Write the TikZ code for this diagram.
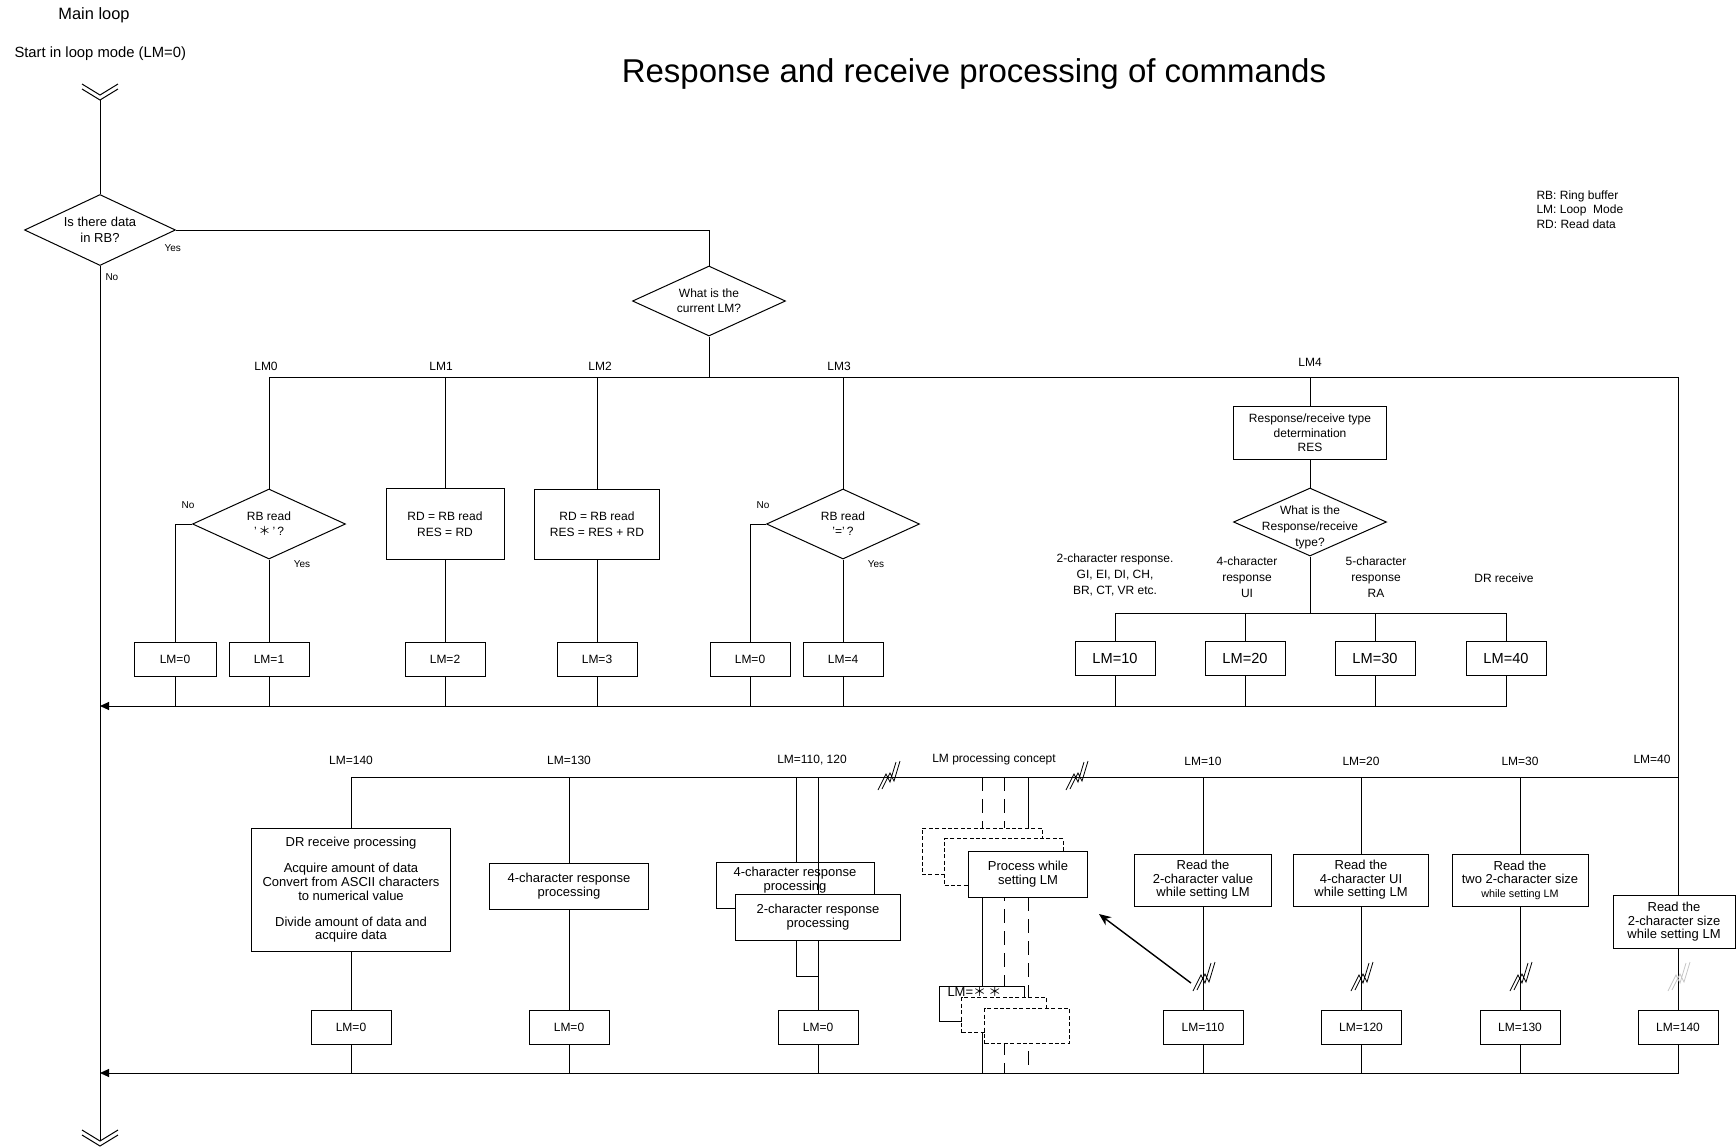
\documentclass[tikz,border=0pt]{standalone}
\usepackage{fontspec}
\setmainfont{Liberation Sans}
\newfontfamily\cjk{Noto Sans CJK JP}
\usetikzlibrary{shapes.geometric,arrows.meta,positioning}

\begin{document}
\begin{tikzpicture}[
    x=0.5pt, y=-0.5pt,
    line width=0.5pt,
    txt/.style={inner sep=0pt, align=center, font=\fontsize{6}{8}\selectfont},
    note/.style={inner sep=0pt, font=\fontsize{5}{6}\selectfont},
    box/.style={draw, fill=white, inner sep=1pt, align=center, font=\fontsize{6}{8}\selectfont},
    lmbox/.style={box, minimum width=40pt, minimum height=17pt},
    lmbig/.style={lmbox, font=\fontsize{7.3}{9}\selectfont},
    proc/.style={box, font=\fontsize{6.5}{6.8}\selectfont},
    decision/.style={diamond, draw, fill=white, inner sep=0pt, aspect=2.2,
                     minimum width=76.5pt, minimum height=35pt, align=center,
                     font=\fontsize{6}{7.5}\selectfont},
    ghost/.style={draw, fill=white, dash pattern=on 2pt off 1.2pt},
    longdash/.style={dash pattern=on 7pt off 4pt},
    arr/.style={-{Triangle[length=4.5pt,width=4pt]}},
    brk/.pic={\draw[line width=0.4pt] (-10,13) -- (-2,-3) -- (2,5) -- (8,-15)
                                        (-6,12) -- (2,-4) -- (6,4) -- (12,-16);},
    chev/.pic={\draw (-18,-11) -- (0,0) -- (18,-11);}
  ]
  \useasboundingbox (0,0) rectangle (1736,1147);

  % headings
  \node[inner sep=0pt, font=\fontsize{8.2}{10}\selectfont] (mainloop) at (94,15) {Main loop};
  \node[inner sep=0pt, anchor=west, font=\fontsize{7.4}{9}\selectfont] (start) at (14,54) {Start in loop mode (LM=0)};
  \node[inner sep=0pt, font=\fontsize{16.5}{20}\selectfont] (title) at (974,74) {Response and receive processing of commands};
  \node[txt, anchor=north west, align=left, font=\fontsize{6}{7.25}\selectfont] (legend) at (1536,190)
    {RB: Ring buffer\\LM: Loop\ \ Mode\\RD: Read data};

  % main loop line
  \coordinate (top) at (100,100);
  \coordinate (bot) at (100,1141);
  \pic at (100,95) {chev};
  \pic at (top) {chev};
  \pic at (bot) {chev};
  \pic at (100,1146) {chev};
  \node[decision, minimum width=75.5pt, minimum height=35.5pt, font=\fontsize{6.5}{8}\selectfont] (qdata) at (100,230) {Is there data\\in RB?};
  \node[note, anchor=west] (yes0) at (164,248) {Yes};
  \node[note, anchor=west] (no0) at (105,277) {No};
  \draw (top) -- (qdata);
  \draw (qdata) -- (bot);

  \node[decision] (qlm) at (709,301) {What is the\\current LM?};
  \draw (qdata.east) -| (qlm.north);
  \coordinate (hub) at (709,377);
  \coordinate (bus0) at (269,377);
  \coordinate (busR) at (1678,377);
  \draw (qlm) -- (hub);
  \draw (bus0) -- (busR);

  \node[txt] (lab0) at (266,366) {LM0};
  \node[txt] (lab1) at (441,366) {LM1};
  \node[txt] (lab2) at (600,366) {LM2};
  \node[txt] (lab3) at (839,366) {LM3};
  \node[txt] (lab4) at (1310,362) {LM4};

  % LM0
  \node[decision] (qstar) at (269,524) {RB read\\'\,{\cjk ＊}\,'\,?};
  \node[note] (no1) at (188,505) {No};
  \node[note] (yes1) at (302,564) {Yes};
  \node[lmbox, minimum width=41pt] (lmA0) at (175,659) {LM=0};
  \node[lmbox] (lmA1) at (269,659) {LM=1};
  \draw (bus0) -- (qstar);
  \draw (qstar.west) -| (lmA0);
  \draw (qstar) -- (lmA1);

  % LM1
  \node[box, minimum width=59pt, minimum height=35.5pt] (rdA) at (445,524) {RD = RB read\\RES = RD};
  \node[lmbox] (lmA2) at (445,659) {LM=2};
  \draw (445,377) -- (rdA);
  \draw (rdA) -- (lmA2);

  % LM2
  \node[box, minimum width=62.5pt, minimum height=35pt] (rdB) at (597,524) {RD = RB read\\RES = RES + RD};
  \node[lmbox] (lmA3) at (597,659) {LM=3};
  \draw (597,377) -- (rdB);
  \draw (rdB) -- (lmA3);

  % LM3
  \node[decision] (qeq) at (843,524) {RB read\\'='\,?};
  \node[note] (no2) at (763,505) {No};
  \node[note] (yes2) at (876,564) {Yes};
  \node[lmbox] (lmA0b) at (750,659) {LM=0};
  \node[lmbox] (lmA4) at (843,659) {LM=4};
  \draw (843,377) -- (qeq);
  \draw (qeq.west) -| (lmA0b);
  \draw (qeq) -- (lmA4);

  % LM4
  \coordinate (lm4top) at (1310,377);
  \coordinate (rhub) at (1310,613);
  \node[box, minimum width=76.5pt, minimum height=26.5pt, font=\fontsize{6}{7.3}\selectfont] (restype) at (1310,433)
    {Response/receive type\\determination\\RES};
  \node[decision, minimum height=34pt] (qres) at (1310,522) {};
  \node[txt] (qrestxt) at ([yshift=-2.5pt]qres.center) {What is the\\Response/receive\\type?};
  \draw (lm4top) -- (restype);
  \draw (restype) -- (qres);
  \draw (qres) -- (rhub);
  \node[txt] (t2) at (1115,575) {2-character response.\\GI, EI, DI, CH,\\BR, CT, VR etc.};
  \node[txt] (t4) at (1247,577) {4-character\\response\\UI};
  \node[txt] (t5) at (1376,577) {5-character\\response\\RA};
  \node[txt] (tdr) at (1504,578) {DR receive};
  \node[lmbig] (lmB10) at (1115,658) {LM=10};
  \node[lmbig] (lmB20) at (1245,658) {LM=20};
  \node[lmbig] (lmB30) at (1375,658) {LM=30};
  \node[lmbig] (lmB40) at (1506,658) {LM=40};
  \draw (lmB10 |- rhub) -- (lmB40 |- rhub);
  \foreach \n in {lmB10,lmB20,lmB30,lmB40}
    \draw (\n |- rhub) -- (\n);

  % first return
  \coordinate (ret0) at (100,706);
  \coordinate (ret1) at (1506,706);
  \foreach \n in {lmA0,lmA1,lmA2,lmA3,lmA0b,lmA4,lmB10,lmB20,lmB30}
    \draw (\n) -- (\n |- ret0);
  \draw[arr] (lmB40) -- (ret1) -- (ret0);

  % second stage
  \coordinate (bus2L) at (351,777);
  \coordinate (ret2L) at (100,1073);
  \coordinate (ret2R) at (1678,1073);
  \draw (bus2L) -- (busR |- bus2L);
  \pic at (888,777) {brk};
  \pic at (1076,777) {brk};

  \node[txt] (lab140) at (351,760) {LM=140};
  \node[txt] (lab130) at (569,760) {LM=130};
  \node[txt] (lab110) at (812,760) {LM=110, 120};
  \node[txt] (labcon) at (994,759) {LM processing concept};
  \node[txt] (lab10) at (1203,761) {LM=10};
  \node[txt] (lab20) at (1361,761) {LM=20};
  \node[txt] (lab30) at (1520,761) {LM=30};
  \node[txt] (lab40) at (1652,759) {LM=40};

  % LM=140
  \node[proc, minimum width=99.5pt, minimum height=61.5pt] (drproc) at (351,890)
    {DR receive processing\\[6.3pt]Acquire amount of data\\Convert from ASCII characters\\to numerical value\\[6.3pt]Divide amount of data and\\acquire data};
  \node[lmbox] (lmC140) at (351,1027) {LM=0};
  \draw (bus2L) -- (drproc);
  \draw (drproc) -- (lmC140);
  \draw (lmC140) -- (lmC140 |- ret2L);

  % LM=130
  \node[proc, minimum width=79.5pt, minimum height=23pt] (resp4) at (569,886) {4-character response\\processing};
  \node[lmbox] (lmC130) at (569,1027) {LM=0};
  \draw (569,777) -- (resp4);
  \draw (resp4) -- (lmC130);
  \draw (lmC130) -- (lmC130 |- ret2L);

  % LM=110, 120
  \coordinate (c110) at (796,777);
  \coordinate (c120) at (818,777);
  \coordinate (join) at (818,976);
  \node[proc, minimum width=79pt, minimum height=23pt, text depth=6.5pt] (resp4b) at (795,885) {4-character response\\processing};
  \node[lmbox] (lmC120) at (818,1027) {LM=0};
  \draw (c110) -- (c110 |- resp4b.north);
  \draw (c120) -- (lmC120);
  \draw (c110 |- resp4b.south) -- (c110 |- join) -- (join);
  \node[proc, minimum width=82.5pt, minimum height=23pt] (resp2) at (818,917) {2-character response\\processing};
  \draw (lmC120) -- (lmC120 |- ret2L);

  % LM processing concept
  \coordinate (pA) at (982,777);
  \coordinate (pB) at (1004,777);
  \coordinate (pC) at (1028,777);
  \draw[longdash] (pA) -- ++(0,60);
  \draw (982,880) -- (pA |- ret2L);
  \draw[longdash] (pB) -- (pB |- ret2L);
  \draw (pC) -- ++(0,80);
  \draw[longdash] (1028,897) -- (pC |- ret2L);
  \node[ghost, minimum width=60pt, minimum height=23pt] (g1) at (982,851) {};
  \node[ghost, minimum width=59.5pt, minimum height=23.5pt] (g2) at (1004,862) {};
  \node[proc, minimum width=59.5pt, minimum height=23pt] (procm) at (1028,874) {Process while\\setting LM};
  \node[draw, fill=white, minimum width=42.5pt, minimum height=17.5pt] (lmstar) at (982,1004) {};
  \node[ghost, minimum width=42.5pt, minimum height=17.5pt] (g3) at (1004,1015) {};
  \node[ghost, minimum width=42.5pt, minimum height=17.5pt] (g4) at (1027,1026) {};
  \node[inner sep=0pt, anchor=north west, font=\fontsize{6.5}{7}\selectfont] (lmstartxt) at (947,986) {LM={\cjk ＊}\,{\cjk ＊}};

  % LM=10
  \node[proc, minimum width=68.5pt, minimum height=26pt] (rd2) at (1203,880) {Read the\\2-character value\\while setting LM};
  \node[lmbox] (lmD110) at (1203,1027) {LM=110};
  \draw (1203,777) -- (rd2);
  \draw (rd2) -- (lmD110);
  \draw (lmD110) -- (lmD110 |- ret2L);
  \pic at (1203,978) {brk};
  \coordinate (brk10) at (1191,983);
  \coordinate (conc) at (1099,914);
  \draw[-{Stealth[length=6pt,width=5pt]}, line width=0.7pt] (brk10) -- (conc);

  % LM=20
  \node[proc, minimum width=67.5pt, minimum height=26pt] (rd4) at (1361,880) {Read the\\4-character UI\\while setting LM};
  \node[lmbox] (lmD120) at (1361,1027) {LM=120};
  \draw (1361,777) -- (rd4);
  \draw (rd4) -- (lmD120);
  \draw (lmD120) -- (lmD120 |- ret2L);
  \pic at (1361,978) {brk};

  % LM=30
  \node[proc, minimum width=68pt, minimum height=26pt] (rd22) at (1520,880) {Read the\\two 2-character size\\{\fontsize{5.4}{6}\selectfont while setting LM}};
  \node[lmbox] (lmD130) at (1520,1027) {LM=130};
  \draw (1520,777) -- (rd22);
  \draw (rd22) -- (lmD130);
  \draw (lmD130) -- (lmD130 |- ret2L);
  \pic at (1520,978) {brk};

  % LM=40
  \node[proc, minimum width=61pt, minimum height=26.5pt] (rdsz) at (1674,922) {Read the\\2-character size\\while setting LM};
  \node[lmbox] (lmD140) at (1678,1027) {LM=140};
  \draw (busR) -- (busR |- rdsz.north);
  \draw (busR |- rdsz.south) -- (lmD140);
  \pic[gray!45] at (1678,978) {brk};
  \draw[arr] (lmD140) -- (ret2R) -- (ret2L);
\end{tikzpicture}
\end{document}
